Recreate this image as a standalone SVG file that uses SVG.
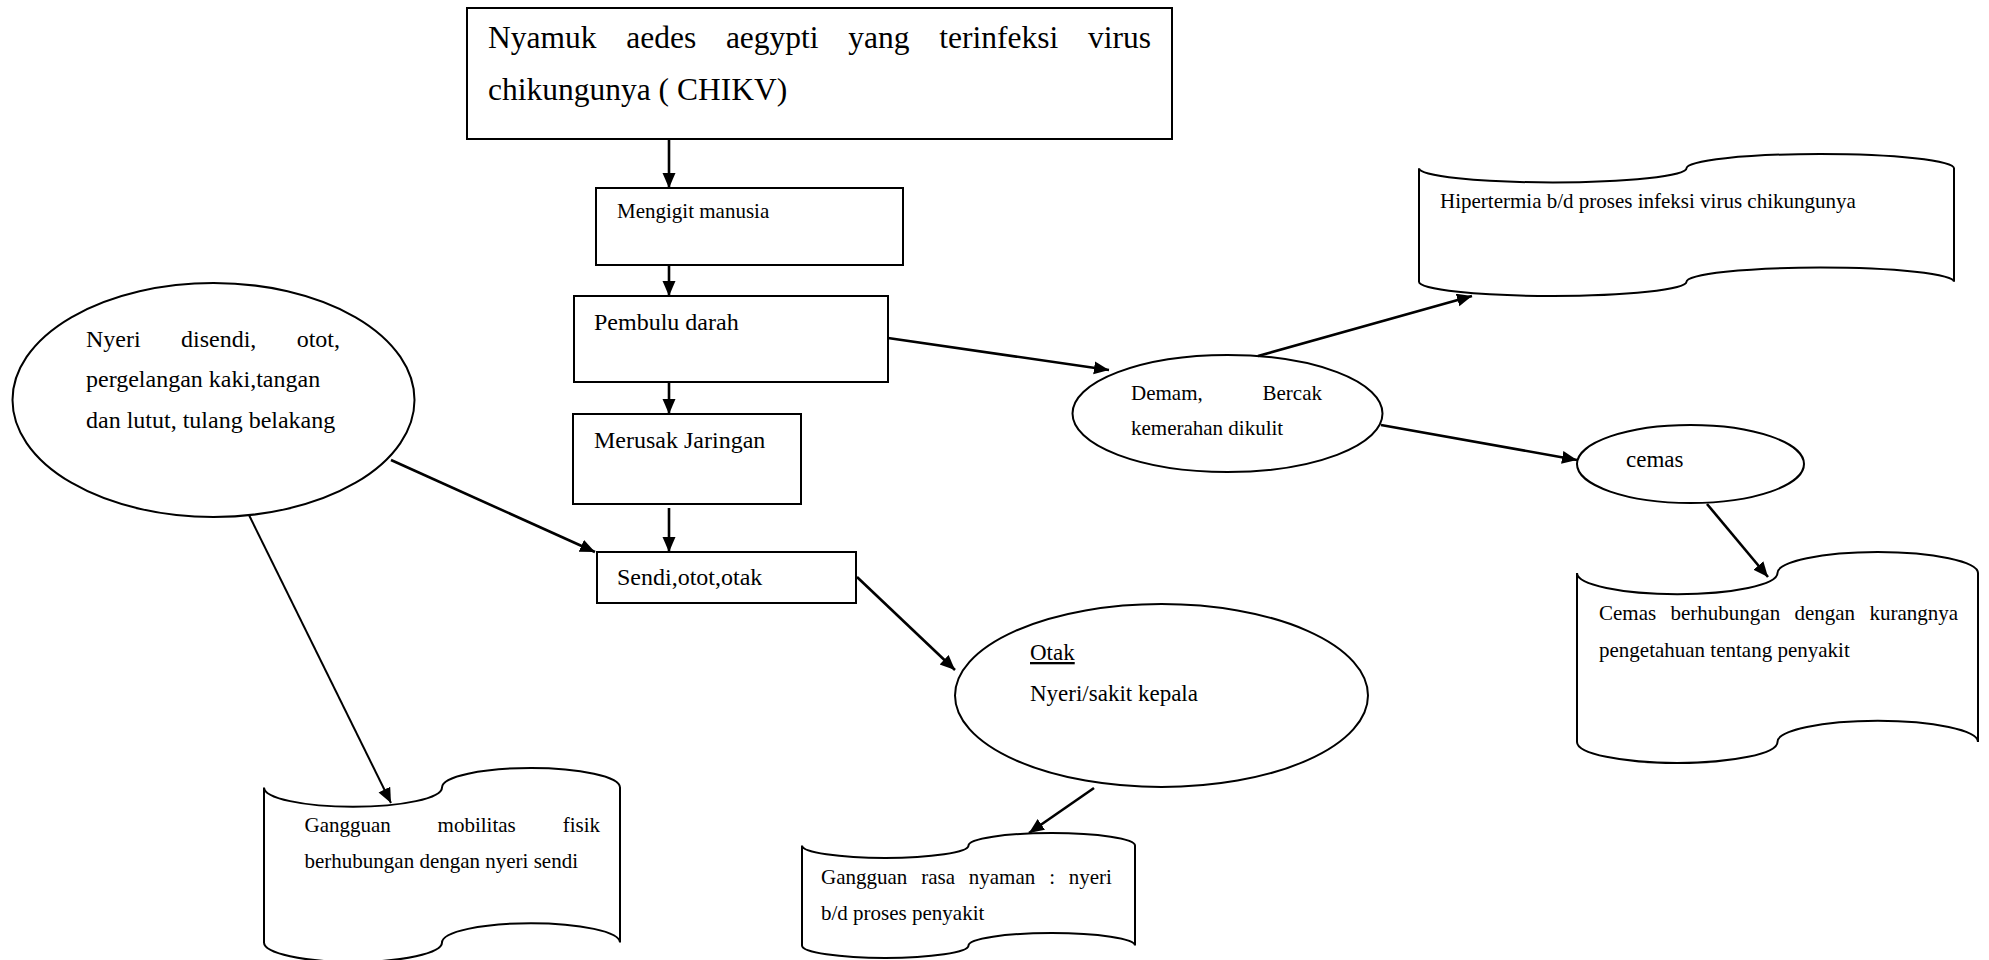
<svg xmlns="http://www.w3.org/2000/svg" width="1989" height="960" viewBox="0 0 1989 960">
<style>
  .shape { fill: #ffffff; stroke: #000000; stroke-width: 2; }
  .t { font-family: "Liberation Serif", "Times New Roman", serif; fill: #000000; }
  .conn line { stroke: #000000; stroke-width: 2.6; }
</style>
<defs>
  <marker id="arr" markerUnits="userSpaceOnUse" markerWidth="16" markerHeight="14" refX="15" refY="6.5" orient="auto">
    <path d="M0,0 L15,6.5 L0,13 z" fill="#000000"/>
  </marker>
</defs>
<rect width="1989" height="960" fill="#ffffff"/>

<g id="node-nyamuk">
  <rect class="shape" x="467" y="8" width="705" height="131"/>
  <text class="t" font-size="31.5" y="48"><tspan x="488">Nyamuk</tspan><tspan x="626.2">aedes</tspan><tspan x="725.9">aegypti</tspan><tspan x="848.3">yang</tspan><tspan x="939.2">terinfeksi</tspan><tspan x="1087.9">virus</tspan></text>
  <text class="t" font-size="31.5" x="488" y="100">chikungunya ( CHIKV)</text>
</g>

<g id="node-mengigit">
  <rect class="shape" x="596" y="188" width="307" height="77"/>
  <text class="t" font-size="21" x="617" y="218">Mengigit manusia</text>
</g>

<g id="node-pembulu">
  <rect class="shape" x="574" y="296" width="314" height="86"/>
  <text class="t" font-size="24" x="594" y="330">Pembulu darah</text>
</g>

<g id="node-merusak">
  <rect class="shape" x="573" y="414" width="228" height="90"/>
  <text class="t" font-size="24" x="594" y="448">Merusak Jaringan</text>
</g>

<g id="node-sendi">
  <rect class="shape" x="597" y="552" width="259" height="51"/>
  <text class="t" font-size="24" x="617" y="585">Sendi,otot,otak</text>
</g>

<g id="node-nyeri-sendi">
  <ellipse class="shape" cx="213.5" cy="400" rx="201" ry="117"/>
  <text class="t" font-size="24" y="347"><tspan x="86">Nyeri</tspan><tspan x="181">disendi,</tspan><tspan x="296.7">otot,</tspan></text>
  <text class="t" font-size="24" x="86" y="387">pergelangan kaki,tangan</text>
  <text class="t" font-size="24" x="86" y="428">dan lutut, tulang belakang</text>
</g>

<g id="node-mobilitas">
  <path class="shape" d="M264,787.4 A89,19.4 0 0 0 442,787.4 A89,19.4 0 0 1 620,787.4 L620,942.6 A89,19.4 0 0 0 442,942.6 A89,19.4 0 0 1 264,942.6 Z"/>
  <text class="t" font-size="21" y="832"><tspan x="304.5">Gangguan</tspan><tspan x="437.6">mobilitas</tspan><tspan x="562.7">fisik</tspan></text>
  <text class="t" font-size="21" x="304.5" y="868">berhubungan dengan nyeri sendi</text>
</g>

<g id="node-otak">
  <ellipse class="shape" cx="1161.5" cy="695.5" rx="206.5" ry="91.5"/>
  <text class="t" font-size="23" x="1030" y="660" text-decoration="underline">Otak</text>
  <text class="t" font-size="23" x="1030" y="701">Nyeri/sakit kepala</text>
</g>

<g id="node-rasa-nyaman">
  <path class="shape" d="M802,845.5 A83.25,12.5 0 0 0 968.5,845.5 A83.25,12.5 0 0 1 1135,845.5 L1135,945.5 A83.25,12.5 0 0 0 968.5,945.5 A83.25,12.5 0 0 1 802,945.5 Z"/>
  <text class="t" font-size="21" y="884"><tspan x="821">Gangguan</tspan><tspan x="921.2">rasa</tspan><tspan x="968.8">nyaman</tspan><tspan x="1049.2">:</tspan><tspan x="1068.8">nyeri</tspan></text>
  <text class="t" font-size="21" x="821" y="920">b/d proses penyakit</text>
</g>

<g id="node-demam">
  <ellipse class="shape" cx="1227.5" cy="413.5" rx="155" ry="58.5"/>
  <text class="t" font-size="21" y="400"><tspan x="1131">Demam,</tspan><tspan x="1262.5">Bercak</tspan></text>
  <text class="t" font-size="21" x="1131" y="435">kemerahan dikulit</text>
</g>

<g id="node-hipertermia">
  <path class="shape" d="M1419,168.2 A133.75,14.2 0 0 0 1686.5,168.2 A133.75,14.2 0 0 1 1954,168.2 L1954,281.8 A133.75,14.2 0 0 0 1686.5,281.8 A133.75,14.2 0 0 1 1419,281.8 Z"/>
  <text class="t" font-size="21" x="1440" y="208">Hipertermia b/d proses infeksi virus chikungunya</text>
</g>

<g id="node-cemas">
  <ellipse class="shape" cx="1690.5" cy="464" rx="113.5" ry="39"/>
  <text class="t" font-size="23" x="1626" y="467">cemas</text>
</g>

<g id="node-cemas-dx">
  <path class="shape" d="M1577,573.1 A100.25,21.1 0 0 0 1777.5,573.1 A100.25,21.1 0 0 1 1978,573.1 L1978,741.9 A100.25,21.1 0 0 0 1777.5,741.9 A100.25,21.1 0 0 1 1577,741.9 Z"/>
  <text class="t" font-size="21" y="620"><tspan x="1599">Cemas</tspan><tspan x="1670.5">berhubungan</tspan><tspan x="1794.4">dengan</tspan><tspan x="1869.4">kurangnya</tspan></text>
  <text class="t" font-size="21" x="1599" y="657">pengetahuan tentang penyakit</text>
</g>

<g id="connectors" class="conn">
  <line x1="669" y1="139" x2="669" y2="188" marker-end="url(#arr)"/>
  <line x1="669" y1="265" x2="669" y2="296" marker-end="url(#arr)"/>
  <line x1="669" y1="382" x2="669" y2="414" marker-end="url(#arr)"/>
  <line x1="669" y1="508" x2="669" y2="552" marker-end="url(#arr)"/>
  <line x1="391" y1="460" x2="595" y2="552" marker-end="url(#arr)"/>
  <line x1="249" y1="515" x2="391" y2="803" marker-end="url(#arr)" style="stroke-width:2"/>
  <line x1="857" y1="577" x2="955" y2="670" marker-end="url(#arr)"/>
  <line x1="1094" y1="788" x2="1029" y2="833" marker-end="url(#arr)"/>
  <line x1="888" y1="338" x2="1109" y2="370" marker-end="url(#arr)"/>
  <line x1="1258" y1="356" x2="1472" y2="296" marker-end="url(#arr)"/>
  <line x1="1381" y1="425" x2="1577" y2="460" marker-end="url(#arr)"/>
  <line x1="1707" y1="504" x2="1768" y2="577" marker-end="url(#arr)"/>
</g>
</svg>
